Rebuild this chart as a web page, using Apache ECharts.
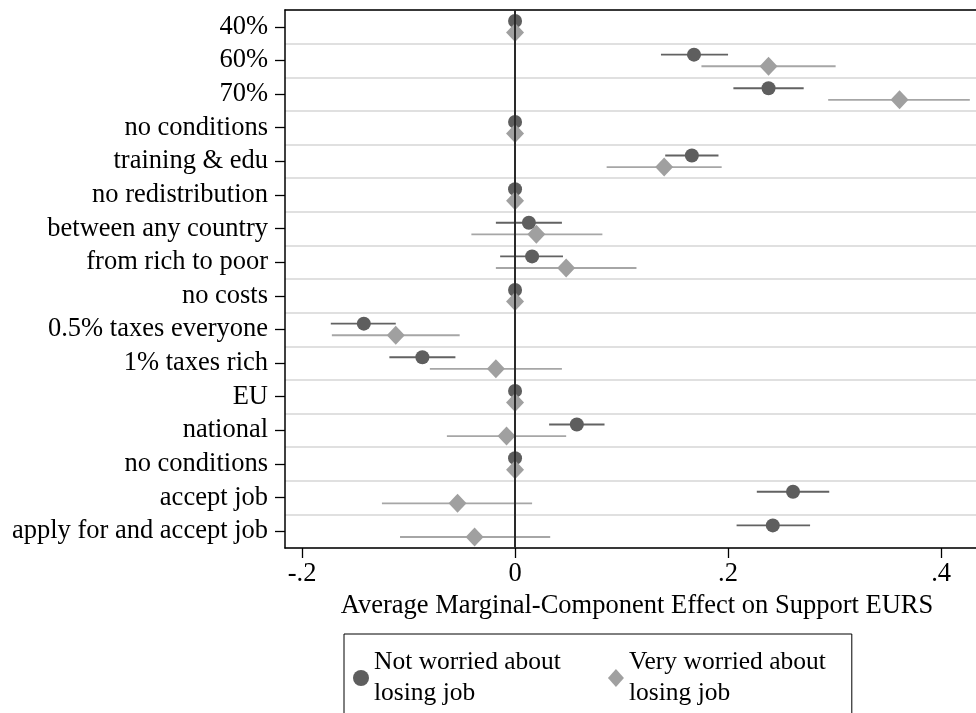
<!DOCTYPE html>
<html>
<head>
<meta charset="utf-8">
<script src="https://cdn.jsdelivr.net/npm/echarts@6/dist/echarts.min.js"></script>
<style>
  html, body { margin: 0; padding: 0; background: #fff; }
  #main-chart { width: 976px; height: 713px; }
</style>
</head>
<body>
<div id="main-chart"></div>
<script>
const categories = ['40%', '60%', '70%', 'no conditions', 'training & edu', 'no redistribution',
    'between any country', 'from rich to poor', 'no costs', '0.5% taxes everyone', '1% taxes rich',
    'EU', 'national', 'no conditions', 'accept job', 'apply for and accept job'];

// not worried about losing job
const notMean = [0, 0.168, 0.238, 0, 0.166, 0, 0.013, 0.016, 0, -0.142, -0.087, 0, 0.058, 0, 0.261, 0.242];
const notLo = [null, 0.137, 0.205, null, 0.141, null, -0.018, -0.014, null, -0.173, -0.118, null, 0.032, null, 0.227, 0.208];
const notHi = [null, 0.200, 0.271, null, 0.191, null, 0.044, 0.045, null, -0.112, -0.056, null, 0.084, null, 0.295, 0.277];

// very worried about losing job
const veryMean = [0, 0.238, 0.361, 0, 0.140, 0, 0.020, 0.048, 0, -0.112, -0.018, 0, -0.008, 0, -0.054, -0.038];
const veryLo = [null, 0.175, 0.294, null, 0.086, null, -0.041, -0.018, null, -0.172, -0.080, null, -0.064, null, -0.125, -0.108];
const veryHi = [null, 0.301, 0.427, null, 0.194, null, 0.082, 0.114, null, -0.052, 0.044, null, 0.048, null, 0.016, 0.033];

const xTicks = [-0.2, 0, 0.2, 0.4];
const xTickLabels = ['-.2', '0', '.2', '.4'];

const notName = 'Not worried about\nlosing job';
const veryName = 'Very worried about\nlosing job';

const darkCol = '#5e5e5e';
const darkLine = '#626262';
const lightCol = '#a0a0a0';
const lightLine = '#a6a6a6';
const serif = "'Liberation Serif', 'Times New Roman', serif";
const rowShift = 5.8;

function ciData(lo, hi) {
    const out = [];
    lo.forEach((v, i) => {
        if (v !== null && hi[i] !== null) out.push([i, v, hi[i]]);
    });
    return out;
}

function ciRenderer(shift, color) {
    return function (params, api) {
        const a = api.coord([api.value(1), api.value(0)]);
        const b = api.coord([api.value(2), api.value(0)]);
        return {
            type: 'line',
            shape: { x1: a[0], y1: a[1] + shift, x2: b[0], y2: b[1] + shift },
            style: { stroke: color, lineWidth: 1.8 }
        };
    };
}

const chart = echarts.init(document.getElementById('main-chart'));

const option = {
    animation: false,
    textStyle: { fontFamily: serif },
    grid: {
        left: 285, top: 10, width: 704, height: 538,
        outerBoundsMode: 'none',
        containLabel: false,
        show: false
    },
    xAxis: [
        {
            type: 'value',
            min: -0.216,
            max: 0.445,
            axisLine: { show: true, onZero: false, lineStyle: { color: '#000', width: 1.5 } },
            axisTick: { show: true, length: 10, lineStyle: { color: '#000', width: 1.3 }, customValues: xTicks },
            axisLabel: {
                customValues: xTicks,
                color: '#000', fontSize: 26.5, fontFamily: serif, margin: 13,
                formatter: v => {
                    const k = xTicks.findIndex(t => Math.abs(t - v) < 1e-9);
                    return k >= 0 ? xTickLabels[k] : '';
                }
            },
            splitLine: { show: false },
            name: 'Average Marginal-Component Effect on Support EURS',
            nameLocation: 'middle',
            nameGap: 45,
            nameTextStyle: { color: '#000', fontSize: 26.5, fontFamily: serif }
        },
        {
            // top frame line
            type: 'value',
            position: 'top',
            min: -0.216,
            max: 0.445,
            axisLine: { show: true, onZero: false, lineStyle: { color: '#000', width: 1.5 } },
            axisTick: { show: false },
            axisLabel: { show: false },
            splitLine: { show: false }
        }
    ],
    yAxis: {
        type: 'category',
        data: categories,
        inverse: true,
        axisLine: { show: true, onZero: false, lineStyle: { color: '#000', width: 1.5 } },
        axisTick: { show: true, alignWithLabel: true, length: 10, lineStyle: { color: '#000', width: 1.3 } },
        axisLabel: { color: '#000', fontSize: 26.5, fontFamily: serif, margin: 17, interval: 0, padding: [4, 0, 0, 0] },
        splitLine: { show: true, lineStyle: { color: '#e0e0e0', width: 2 } }
    },
    legend: {
        left: 344,
        top: 634,
        orient: 'horizontal',
        padding: [13, 26, 30, 9],
        borderColor: '#000',
        borderWidth: 1,
        itemGap: 47,
        itemWidth: 16,
        itemHeight: 18,
        textStyle: { color: '#000', fontSize: 25.5, fontFamily: serif, lineHeight: 31 },
        data: [
            { name: notName, icon: 'circle', itemStyle: { color: darkCol } },
            { name: veryName, icon: 'diamond', itemStyle: { color: lightCol } }
        ]
    },
    series: [
        {
            name: 'zero',
            type: 'scatter',
            data: [],
            z: 1,
            silent: true,
            markLine: {
                symbol: 'none',
                silent: true,
                label: { show: false },
                lineStyle: { color: '#2a2a2a', width: 2, type: 'solid' },
                data: [{ xAxis: 0 }]
            }
        },
        {
            name: 'ci-very',
            type: 'custom',
            z: 2,
            renderItem: ciRenderer(rowShift, lightLine),
            data: ciData(veryLo, veryHi)
        },
        {
            name: 'ci-not',
            type: 'custom',
            z: 2,
            renderItem: ciRenderer(-rowShift, darkLine),
            data: ciData(notLo, notHi)
        },
        {
            name: notName,
            type: 'scatter',
            z: 3,
            symbol: 'circle',
            symbolSize: 14,
            symbolOffset: [0, -rowShift],
            itemStyle: { color: darkCol, opacity: 1 },
            data: notMean.map((v, i) => [v, i])
        },
        {
            name: veryName,
            type: 'scatter',
            z: 4,
            symbol: 'diamond',
            symbolSize: [18, 19],
            symbolOffset: [0, rowShift],
            itemStyle: { color: lightCol, opacity: 1 },
            data: veryMean.map((v, i) => [v, i])
        }
    ]
};

chart.setOption(option);
</script>
</body>
</html>
